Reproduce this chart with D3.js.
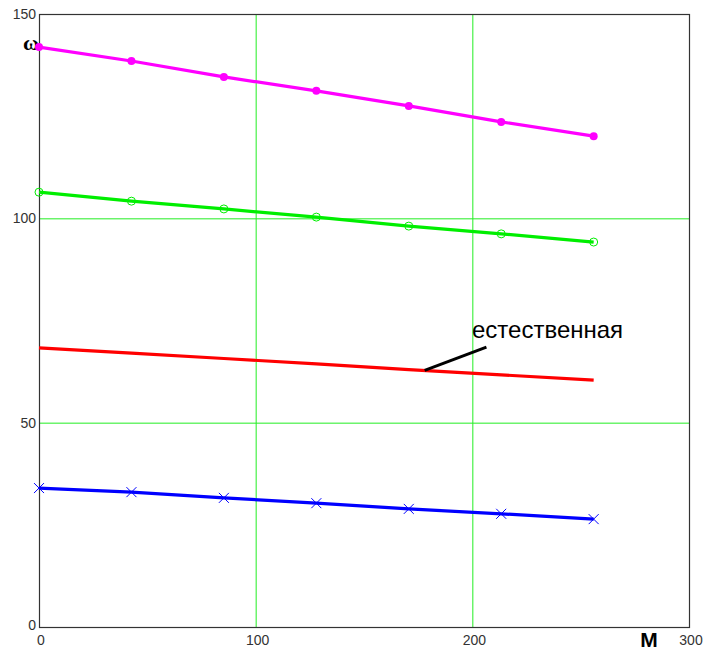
<!DOCTYPE html>
<html>
<head>
<meta charset="utf-8">
<script src="https://cdn.jsdelivr.net/npm/d3@7"></script>
<style>
body { margin: 0; background: #fff; }
</style>
</head>
<body>
<script>
var mValues = [0, 42.67, 85.33, 128, 170.67, 213.33, 256];
var wMagenta = [141.9, 138.5, 134.6, 131.2, 127.5, 123.6, 120.1];
var wGreen = [106.4, 104.2, 102.3, 100.3, 98.1, 96.2, 94.2];
var wRed = [68.3, 67.0, 65.7, 64.4, 63.0, 61.7, 60.4];
var wBlue = [34.0, 33.0, 31.6, 30.3, 28.9, 27.7, 26.4];
var xTicks = [0, 100, 200, 300];
var yTicks = [0, 50, 100, 150];
var gridX = [100, 200];
var gridY = [50, 100];

var w = 704;
var h = 652;

var x = d3.scaleLinear().domain([0, 300]).range([39, 689]);
var y = d3.scaleLinear().domain([0, 150]).range([627, 14]);

var svg = d3.select("body")
			.append("svg")
			.attr("width", w)
			.attr("height", h);

//Grid
svg.selectAll("line.gx")
	.data(gridX)
	.enter()
	.append("line")
	.attr("x1", function(d) { return x(d) + 0.5; })
	.attr("x2", function(d) { return x(d) + 0.5; })
	.attr("y1", y(150))
	.attr("y2", y(0))
	.attr("stroke", "#22ee22")
	.attr("stroke-width", 1);

svg.selectAll("line.gy")
	.data(gridY)
	.enter()
	.append("line")
	.attr("y1", function(d) { return y(d) + 0.5; })
	.attr("y2", function(d) { return y(d) + 0.5; })
	.attr("x1", x(0))
	.attr("x2", x(300))
	.attr("stroke", "#22ee22")
	.attr("stroke-width", 1);

//Frame
svg.append("rect")
	.attr("x", x(0) + 0.5)
	.attr("y", y(150) + 0.5)
	.attr("width", x(300) - x(0))
	.attr("height", y(0) - y(150))
	.attr("fill", "none")
	.attr("stroke", "#333")
	.attr("stroke-width", 1.2);

//Tick labels
svg.selectAll("text.yt")
	.data(yTicks)
	.enter()
	.append("text")
	.attr("x", 36)
	.attr("y", function(d) { return d == 0 ? y(d) + 3 : y(d) + 5; })
	.attr("text-anchor", "end")
	.attr("font-family", "Arial, Liberation Sans, sans-serif")
	.attr("font-size", 14)
	.attr("fill", "#333")
	.text(function(d) { return d; });

svg.selectAll("text.xt")
	.data(xTicks)
	.enter()
	.append("text")
	.attr("x", function(d) { return d == 300 ? 691 : x(d) + 2; })
	.attr("y", 645)
	.attr("text-anchor", "middle")
	.attr("font-family", "Arial, Liberation Sans, sans-serif")
	.attr("font-size", 14)
	.attr("fill", "#333")
	.text(function(d) { return d; });

//Axis names
svg.append("text")
	.attr("x", 31)
	.attr("y", 50)
	.attr("text-anchor", "middle")
	.attr("font-family", "Times New Roman, Liberation Serif, serif")
	.attr("font-weight", "bold")
	.attr("font-size", 22)
	.text("ω");

svg.append("text")
	.attr("x", 649)
	.attr("y", 647)
	.attr("text-anchor", "middle")
	.attr("font-family", "Arial, Liberation Sans, sans-serif")
	.attr("font-weight", "bold")
	.attr("font-size", 21)
	.text("M");

//Lines
var series = [
	{values: wMagenta, color: "#ff00ff", marker: "dot"},
	{values: wGreen, color: "#00ee00", marker: "circle"},
	{values: wRed, color: "#ff0000", marker: "none"},
	{values: wBlue, color: "#0000ff", marker: "cross"}
];

var line = d3.line()
	.x(function(d) { return x(d[0]); })
	.y(function(d) { return y(d[1]); });

series.forEach(function(s) {
	var pts = mValues.map(function(m, i) { return [m, s.values[i]]; });
	svg.append("path")
		.datum(pts)
		.attr("d", line)
		.attr("fill", "none")
		.attr("stroke", s.color)
		.attr("stroke-width", 3.2);

	if (s.marker == "dot") {
		svg.selectAll(null)
			.data(pts)
			.enter()
			.append("circle")
			.attr("cx", function(d) { return x(d[0]); })
			.attr("cy", function(d) { return y(d[1]); })
			.attr("r", 4)
			.attr("fill", s.color);
	} else if (s.marker == "circle") {
		svg.selectAll(null)
			.data(pts)
			.enter()
			.append("circle")
			.attr("cx", function(d) { return x(d[0]); })
			.attr("cy", function(d) { return y(d[1]); })
			.attr("r", 4)
			.attr("fill", "none")
			.attr("stroke", s.color)
			.attr("stroke-width", 1);
	} else if (s.marker == "cross") {
		svg.selectAll(null)
			.data(pts)
			.enter()
			.append("path")
			.attr("transform", function(d) { return "translate(" + x(d[0]) + "," + y(d[1]) + ")"; })
			.attr("d", "M-5,-5L5,5M-5,5L5,-5")
			.attr("stroke", s.color)
			.attr("stroke-width", 1);
	}
});

//Annotation
svg.append("line")
	.attr("x1", x(178))
	.attr("y1", y(62.8))
	.attr("x2", x(206.5))
	.attr("y2", y(68.5))
	.attr("stroke", "#000")
	.attr("stroke-width", 3);

svg.append("text")
	.attr("x", 472)
	.attr("y", 338)
	.attr("font-family", "Arial, Liberation Sans, sans-serif")
	.attr("font-size", 24)
	.attr("fill", "#000")
	.text("естественная");
</script>
</body>
</html>
